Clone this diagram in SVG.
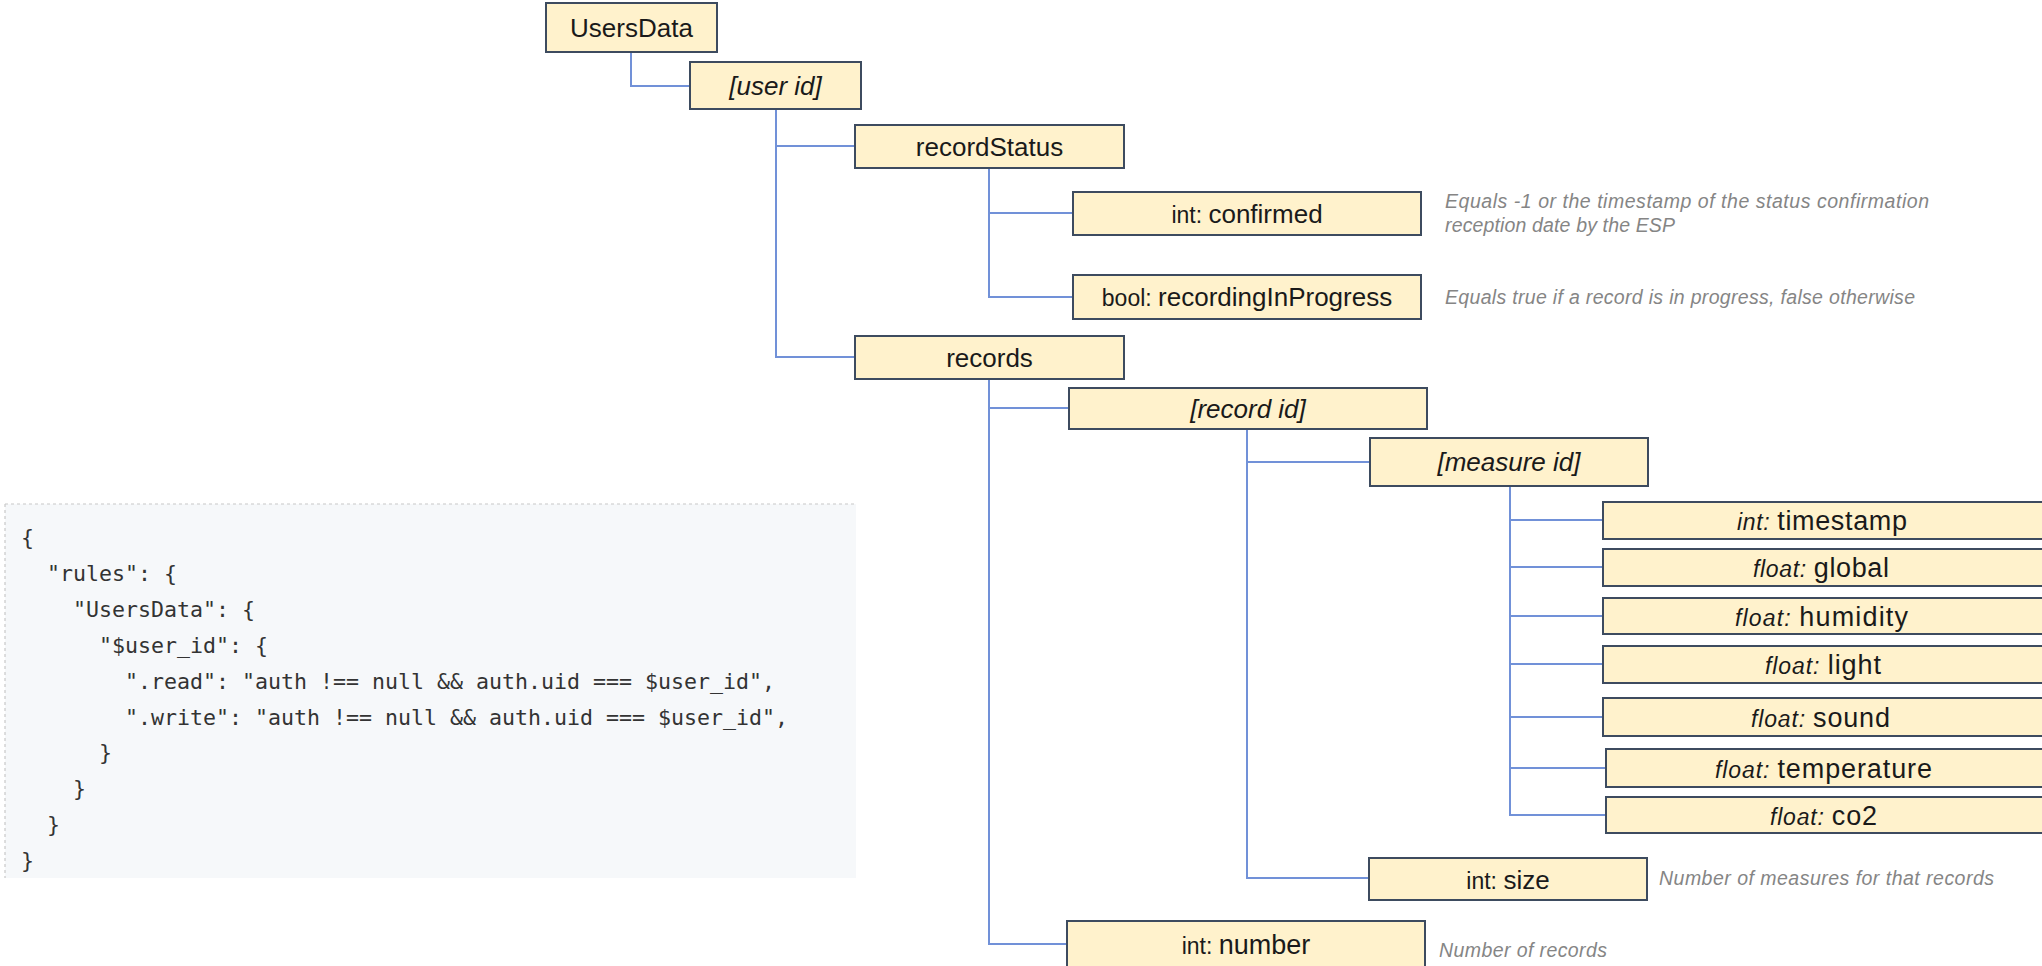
<svg xmlns="http://www.w3.org/2000/svg" width="2042" height="966" viewBox="0 0 2042 966">
<style>
.box{fill:#fff2cc;stroke:#3d4b5f;stroke-width:2}
.lbl{font-family:"Liberation Sans",Arial,sans-serif;font-size:26px;fill:#1a1a1a;text-anchor:middle}
.big{font-size:27px}
.it{font-style:italic}
.pre{font-size:23px}
.conn{fill:none;stroke:#7191d8;stroke-width:2}
.desc{font-family:"Liberation Sans",Arial,sans-serif;font-size:19.5px;font-style:italic;fill:#858585}
.code{font-family:"DejaVu Sans Mono","Liberation Mono",monospace;font-size:21.6px;fill:#333;white-space:pre}
</style>
<rect width="2042" height="966" fill="#ffffff"/>
<g id="connectors">
<path class="conn" d="M631 52V86H690"/>
<path class="conn" d="M776 109V357H855M776 146H855"/>
<path class="conn" d="M989 168V297H1073M989 213H1073"/>
<path class="conn" d="M989 379V944H1067M989 408H1069"/>
<path class="conn" d="M1247 429V878H1369M1247 462H1370"/>
<path class="conn" d="M1510 486V815H1606M1510 520H1603M1510 567H1603M1510 616H1603M1510 664H1603M1510 717H1603M1510 768H1606"/>
</g>
<g id="n-usersdata"><rect class="box" x="546" y="3" width="171" height="49"/><text class="lbl" x="631.5" y="37">UsersData</text></g>
<g id="n-userid"><rect class="box" x="690" y="62" width="171" height="47"/><text class="lbl it" x="775.5" y="95">[user id]</text></g>
<g id="n-recordstatus"><rect class="box" x="855" y="125" width="269" height="43"/><text class="lbl" x="989.5" y="156">recordStatus</text></g>
<g id="n-confirmed"><rect class="box" x="1073" y="192" width="348" height="43"/><text class="lbl" x="1247" y="223"><tspan class="pre">int: </tspan>confirmed</text></g>
<g id="n-recording"><rect class="box" x="1073" y="275" width="348" height="44"/><text class="lbl" x="1247" y="306"><tspan class="pre">bool: </tspan>recordingInProgress</text></g>
<g id="n-records"><rect class="box" x="855" y="336" width="269" height="43"/><text class="lbl" x="989.5" y="367">records</text></g>
<g id="n-recordid"><rect class="box" x="1069" y="388" width="358" height="41"/><text class="lbl it" x="1248" y="418">[record id]</text></g>
<g id="n-measureid"><rect class="box" x="1370" y="438" width="278" height="48"/><text class="lbl it" x="1509" y="471">[measure id]</text></g>
<g id="n-timestamp"><rect class="box" x="1603" y="502" width="445" height="37"/><text class="lbl big" x="1822" y="530" textLength="170"><tspan class="it pre">int: </tspan>timestamp</text></g>
<g id="n-global"><rect class="box" x="1603" y="549" width="445" height="37"/><text class="lbl big" x="1821" y="577" textLength="136"><tspan class="it pre">float: </tspan>global</text></g>
<g id="n-humidity"><rect class="box" x="1603" y="598" width="445" height="36"/><text class="lbl big" x="1821.5" y="625.5" textLength="173"><tspan class="it pre">float: </tspan>humidity</text></g>
<g id="n-light"><rect class="box" x="1603" y="646" width="445" height="37"/><text class="lbl big" x="1823" y="674" textLength="116"><tspan class="it pre">float: </tspan>light</text></g>
<g id="n-sound"><rect class="box" x="1603" y="698" width="445" height="38"/><text class="lbl big" x="1820.5" y="726.5" textLength="139"><tspan class="it pre">float: </tspan>sound</text></g>
<g id="n-temperature"><rect class="box" x="1606" y="749" width="442" height="38"/><text class="lbl big" x="1823.5" y="777.5" textLength="217"><tspan class="it pre">float: </tspan>temperature</text></g>
<g id="n-co2"><rect class="box" x="1606" y="797" width="442" height="36"/><text class="lbl big" x="1823.5" y="824.5" textLength="107"><tspan class="it pre">float: </tspan>co2</text></g>
<g id="n-size"><rect class="box" x="1369" y="858" width="278" height="42"/><text class="lbl" x="1508" y="888.5"><tspan class="pre">int: </tspan>size</text></g>
<g id="n-number"><rect class="box" x="1067" y="921" width="358" height="50"/><text class="lbl big" x="1246" y="954"><tspan class="pre">int: </tspan>number</text></g>
<g id="descriptions">
<text class="desc" x="1445" y="208" textLength="484">Equals -1 or the timestamp of the status confirmation</text>
<text class="desc" x="1445" y="232" textLength="230">reception date by the ESP</text>
<text class="desc" x="1445" y="304" textLength="470">Equals true if a record is in progress, false otherwise</text>
<text class="desc" x="1659" y="885" textLength="335">Number of measures for that records</text>
<text class="desc" x="1439" y="957" textLength="168">Number of records</text>
</g>
<g id="code-block">
<rect x="5" y="504" width="851" height="374" fill="#f6f8fa"/>
<path d="M5 504H856M5 504V878" stroke="#c8c8c8" stroke-width="1.2" stroke-dasharray="3 3" fill="none"/>
<text class="code" x="21" y="545">{</text>
<text class="code" x="21" y="581">  "rules": {</text>
<text class="code" x="21" y="617">    "UsersData": {</text>
<text class="code" x="21" y="653">      "$user_id": {</text>
<text class="code" x="21" y="689">        ".read": "auth !== null &amp;&amp; auth.uid === $user_id",</text>
<text class="code" x="21" y="725">        ".write": "auth !== null &amp;&amp; auth.uid === $user_id",</text>
<text class="code" x="21" y="760">      }</text>
<text class="code" x="21" y="796">    }</text>
<text class="code" x="21" y="832">  }</text>
<text class="code" x="21" y="868">}</text>
</g>
</svg>
